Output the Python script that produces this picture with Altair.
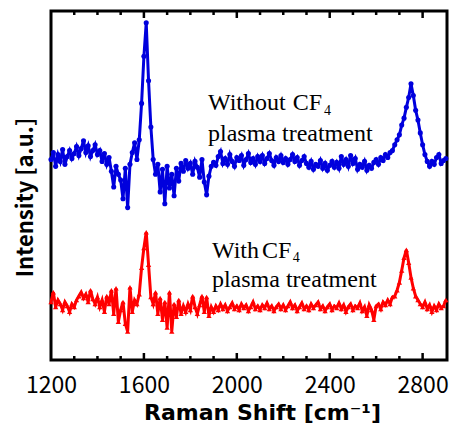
import altair as alt
import pandas as pd

# Raman shift grid (cm^-1)
shift = [1200, 1210, 1220, 1230, 1240, 1250, 1260, 1270, 1280, 1290,
         1300, 1310, 1320, 1330, 1340, 1350, 1360, 1370, 1380, 1390,
         1400, 1410, 1420, 1430, 1440, 1450, 1460, 1470, 1480, 1490,
         1500, 1510, 1520, 1530, 1540, 1550, 1560, 1570, 1580, 1590,
         1600, 1610, 1620, 1630, 1640, 1650, 1660, 1670, 1680, 1690,
         1700, 1710, 1720, 1730, 1740, 1750, 1760, 1770, 1780, 1790,
         1800, 1810, 1820, 1830, 1840, 1850, 1860, 1870, 1880, 1890,
         1900, 1910, 1920, 1930, 1940, 1950, 1960, 1970, 1980, 1990,
         2000, 2010, 2020, 2030, 2040, 2050, 2060, 2070, 2080, 2090,
         2100, 2110, 2120, 2130, 2140, 2150, 2160, 2170, 2180, 2190,
         2200, 2210, 2220, 2230, 2240, 2250, 2260, 2270, 2280, 2290,
         2300, 2310, 2320, 2330, 2340, 2350, 2360, 2370, 2380, 2390,
         2400, 2410, 2420, 2430, 2440, 2450, 2460, 2470, 2480, 2490,
         2500, 2510, 2520, 2530, 2540, 2550, 2560, 2570, 2580, 2590,
         2600, 2610, 2620, 2630, 2640, 2650, 2660, 2670, 2680, 2690,
         2700, 2710, 2720, 2730, 2740, 2750, 2760, 2770, 2780, 2790,
         2800, 2810, 2820, 2830, 2840, 2850, 2860, 2870, 2880, 2890,
         2900]

# Intensity (a.u.), without CF4 plasma treatment (blue, offset upward)
without_cf4 = [205, 212, 198, 210, 203, 215, 200, 208, 214, 206,
               211, 218, 209, 216, 224, 212, 219, 208, 214, 220,
               210, 214, 203, 211, 200, 207, 193, 177, 198, 190,
               184, 165, 196, 156, 200, 212, 222, 205, 225, 262,
               310, 344, 285, 238, 205, 190, 200, 172, 195, 160,
               198, 176, 190, 168, 196, 183, 201, 193, 204, 196,
               201, 190, 203, 197, 187, 205, 182, 169, 188, 198,
               202, 199, 208, 213, 201, 206, 200, 210, 203, 198,
               207, 204, 209, 199, 205, 211, 202, 206, 200, 208,
               203, 209, 201, 206, 211, 204, 199, 207, 203, 209,
               202, 206, 200, 205, 210, 203, 207, 199, 204, 208,
               201, 197, 203, 195, 200, 198, 204, 196, 201, 194,
               199, 203, 197, 202, 196, 208, 200, 205, 198, 209,
               201, 206, 195, 200, 197, 203, 194, 199, 196, 202,
               205, 200, 207, 204, 210, 207, 212, 214, 220, 225,
               230, 240, 247, 258, 268, 282, 270, 255, 245, 232,
               220, 210, 203, 198, 203, 200, 207, 210, 201, 204,
               206]

# Intensity (a.u.), with CF4 plasma treatment (red)
with_cf4 = [60, 70, 55, 62, 58, 52, 60, 56, 50, 58,
            55, 62, 66, 70, 64, 68, 60, 72, 63, 58,
            65, 55, 62, 50, 66, 58, 72, 48, 74, 40,
            52, 60, 38, 30, 75, 50, 62, 58, 68, 95,
            115, 131, 98, 65, 58, 70, 48, 64, 42, 60,
            34, 70, 30, 58, 45, 62, 48, 56, 50, 58,
            52, 66, 55, 48, 57, 66, 50, 65, 46, 55,
            50, 56, 52, 58, 53, 57, 51, 55, 59, 53,
            56, 52, 58, 54, 57, 51, 55, 60, 53, 56,
            52, 57, 54, 59, 53, 56, 51, 55, 58, 53,
            57, 52, 56, 60, 54, 57, 51, 55, 59, 53,
            56, 52, 58, 54, 57, 60, 53, 56, 51, 55,
            58, 52, 56, 54, 59, 53, 57, 50, 55, 58,
            52, 56, 54, 59, 51, 55, 46, 57, 52, 42,
            56, 58, 53, 60, 57, 62, 58, 65, 66, 72,
            80, 92, 105, 113, 100, 85, 74, 66, 62, 58,
            55, 60, 53, 57, 50, 56, 52, 58, 54, 56,
            62]

x_labels = [1200, 1600, 2000, 2400, 2800]
major_ticks = [1600, 2000, 2400, 2800]
minor_ticks = [1300, 1400, 1500, 1700, 1800, 1900, 2100, 2200, 2300, 2500, 2600, 2700]

ann_text = ["Without", "CF", "4", "plasma treatment", "With", "CF", "4", "plasma treatment"]
ann_x = [1876, 2241, 2375, 1876, 1893, 2108, 2241, 1893]
ann_y = [255, 255, 250, 224, 105, 105, 101, 75]
ann_size = [24, 24, 14, 24, 24, 24, 14, 24]

W, H = 396, 349

df = pd.DataFrame({"shift": shift, "without": without_cf4, "with": with_cf4})
ann = pd.DataFrame({"t": ann_text, "x": ann_x, "y": ann_y, "s": ann_size})
dmaj = pd.DataFrame({"t": major_ticks})
dmin = pd.DataFrame({"t": minor_ticks})

xs = alt.Scale(domain=[1200, 2905], nice=False, zero=False)
ys = alt.Scale(domain=[1, 356], nice=False, zero=False)

xaxis = alt.Axis(values=x_labels, title="Raman Shift [cm⁻¹]", ticks=False, domain=False,
                 grid=False, labelFlush=False, labelPadding=14, titlePadding=5, format="d",
                 labelFont="Noto Sans CJK JP", labelFontSize=23,
                 titleFont="DejaVu Sans", titleFontSize=22, titleX=211, titleAlign="center")
yaxis = alt.Axis(title="Intensity [a.u.]", labels=False, ticks=False, domain=False,
                 grid=False, titlePadding=14, titleFont="Noto Sans CJK JP",
                 titleFontSize=22, titleY=186)

blue = alt.Chart(df).mark_line(
    color="#0000dd", strokeWidth=3,
    point=alt.OverlayMarkDef(shape="circle", size=26, filled=True, color="#0000dd"),
).encode(
    x=alt.X("shift:Q", scale=xs, axis=xaxis),
    y=alt.Y("without:Q", scale=ys, axis=yaxis),
)

red = alt.Chart(df).mark_line(
    color="#ff0000", strokeWidth=3,
    point=alt.OverlayMarkDef(shape="triangle-up", size=28, filled=True, color="#ff0000"),
).encode(
    x=alt.X("shift:Q", scale=xs, axis=xaxis),
    y=alt.Y("with:Q", scale=ys, axis=yaxis),
)

def ticks(data, y1, y2):
    return alt.Chart(data).mark_rule(color="black", strokeWidth=2.5).encode(
        x=alt.X("t:Q", scale=xs, axis=xaxis), y=alt.value(y1), y2=alt.value(y2))

text = alt.Chart(ann).mark_text(
    align="left", baseline="alphabetic", font="Liberation Serif", color="black"
).encode(
    x=alt.X("x:Q", scale=xs, axis=xaxis),
    y=alt.Y("y:Q", scale=ys, axis=yaxis),
    text="t:N",
    size=alt.Size("s:Q", scale=None, legend=None),
)

chart = alt.layer(
    red, blue, text,
    ticks(dmaj, H, H - 7), ticks(dmin, H, H - 4),
    ticks(dmaj, 0, 7), ticks(dmin, 0, 4),
).properties(
    width=W, height=H,
    autosize=alt.AutoSizeParams(type="none"),
    padding={"left": 43, "top": 3, "right": 2, "bottom": 66},
).configure_view(
    stroke="black", strokeWidth=3
).configure_axis(
    labelColor="black", titleFontWeight="bold", titleColor="black",
)

chart.save("out.html", embed_options={"renderer": "svg", "actions": False})
